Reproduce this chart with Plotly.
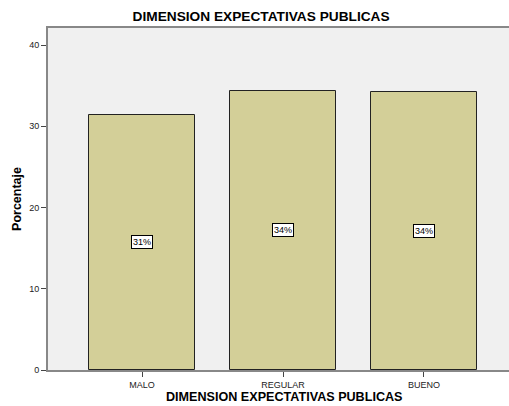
import plotly.graph_objects as go

categories = ["MALO", "REGULAR", "BUENO"]
percentages = [31.4, 34.4, 34.2]
labels = ["31%", "34%", "34%"]
y_ticks = [0, 10, 20, 30, 40]

fig = go.Figure()
fig.add_trace(go.Bar(
    x=categories, y=percentages, width=0.75,
    marker=dict(color="#D3CF98", line=dict(color="#222222", width=1)),
    hoverinfo="skip",
))

for c, v, t in zip(categories, percentages, labels):
    fig.add_annotation(x=c, y=v / 2, text=t, showarrow=False,
                       font=dict(family="Liberation Sans, Arial", size=9, color="#000"),
                       bgcolor="white", bordercolor="#000", borderwidth=1, borderpad=1)

fig.add_annotation(xref="paper", yref="paper", x=0.512, y=-0.105, yanchor="bottom",
                   text="<b>DIMENSION EXPECTATIVAS PUBLICAS</b>", showarrow=False,
                   font=dict(family="Liberation Sans, Arial", size=12.6, color="#000"))

fig.update_layout(
    width=509, height=406,
    margin=dict(l=48, r=0, t=28, b=36),
    paper_bgcolor="white", plot_bgcolor="#F0F0F0",
    showlegend=False,
    title=dict(text="<b>DIMENSION EXPECTATIVAS PUBLICAS</b>", xref="container", x=0.513,
               xanchor="center", y=0.96, yanchor="middle",
               font=dict(family="Liberation Sans, Arial", size=13.7, color="#000")),
    bargap=0,
)
fig.update_xaxes(range=[-0.667, 2.603], showline=True, linecolor="#888888", linewidth=2,
                 mirror=True, ticks="outside", ticklen=5, tickcolor="#444",
                 tickfont=dict(family="Liberation Sans, Arial", size=9, color="#222"),
                 showgrid=False, zeroline=False)
fig.update_yaxes(range=[0, 42.1], tickvals=y_ticks, showline=True, linecolor="#888888",
                 linewidth=2, ticks="outside", ticklen=5, tickcolor="#444",
                 tickfont=dict(family="Liberation Sans, Arial", size=9, color="#222"),
                 showgrid=False, zeroline=False,
                 title=dict(text="<b>Porcentaje</b>", standoff=5,
                            font=dict(family="Liberation Sans, Arial", size=12.5, color="#000")))

fig.write_html("out.html", config={"displayModeBar": False},
               post_script="document.body.style.margin='0';document.body.style.overflow='hidden';")
